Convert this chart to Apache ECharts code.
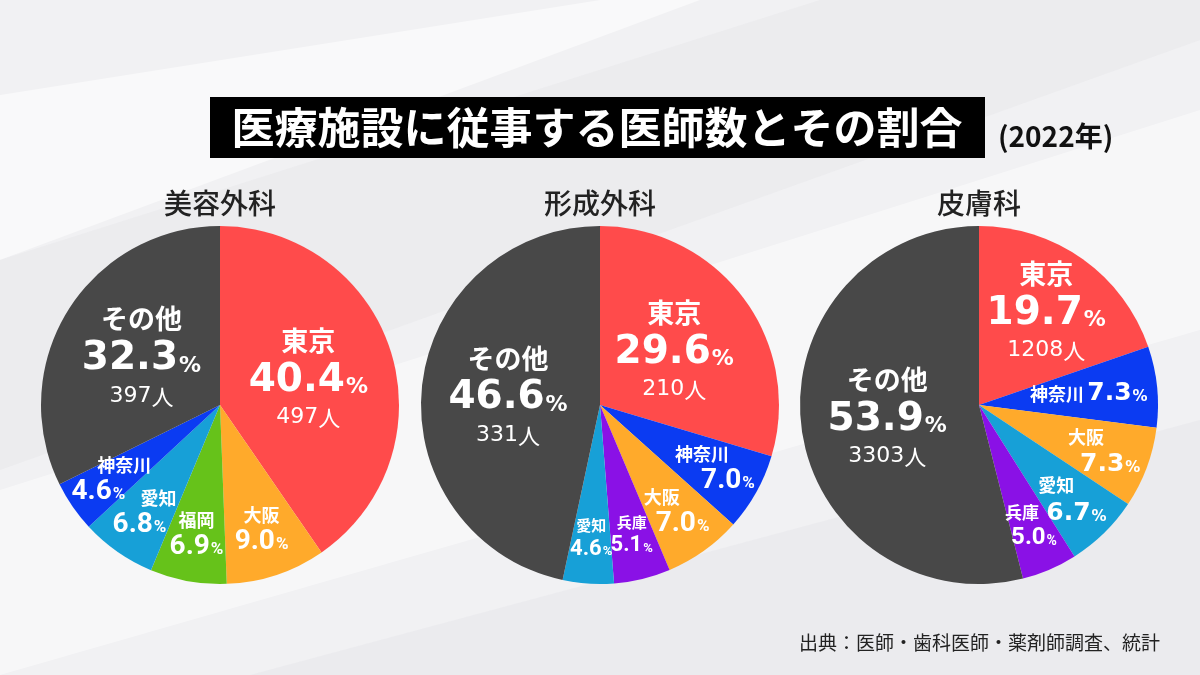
<!DOCTYPE html>
<html>
<head>
<meta charset="utf-8">
<script src="https://cdn.jsdelivr.net/npm/echarts@6/dist/echarts.min.js"></script>
<style>
  html, body { margin: 0; padding: 0; background: #f1f1f3; }
  #main { width: 1200px; height: 675px; }
</style>
</head>
<body>
<div id="main"></div>
<script>
// ---- data ----
const pieTitles = ['美容外科', '形成外科', '皮膚科'];

const regions1 = ['東京', '大阪', '福岡', '愛知', '神奈川', 'その他'];
const shares1  = [40.4, 9.0, 6.9, 6.8, 4.6, 32.3];
const counts1  = [497, null, null, null, null, 397];

const regions2 = ['東京', '神奈川', '大阪', '兵庫', '愛知', 'その他'];
const shares2  = [29.6, 7.0, 7.0, 5.1, 4.6, 46.6];
const counts2  = [210, null, null, null, null, 331];

const regions3 = ['東京', '神奈川', '大阪', '愛知', '兵庫', 'その他'];
const shares3  = [19.7, 7.3, 7.3, 6.7, 5.0, 53.9];
const counts3  = [1208, null, null, null, null, 3303];

const titleText = '医療施設に従事する医師数とその割合';
const yearText = '(2022年)';
const sourceText = '出典：医師・歯科医師・薬剤師調査、統計';

// ---- styles (kept apart from data) ----
const regionColors = {
  '東京': '#FF4B4B', '大阪': '#FFAA2B', '福岡': '#66C21A', '愛知': '#17A0D7',
  '神奈川': '#0B3BF2', '兵庫': '#8A11E6', 'その他': '#484848'
};
// label style per slice: kind (font set + ring), alignment of name vs % line, shift
const labelSpecs = [
  [{ k: 'big' }, { k: 'small', a: 'c' }, { k: 'small', a: 'c' }, { k: 'small', a: 'rl', s: 10 }, { k: 'small', a: 'rl', s: 26 }, { k: 'big' }],
  [{ k: 'big' }, { k: 'small', a: 'lr', s: 26 }, { k: 'small', a: 'lr', s: 12 }, { k: 'tiny', a: 'c' }, { k: 'tiny', a: 'c' }, { k: 'big' }],
  [{ k: 'bigMid' }, { k: 'inline' }, { k: 'wide', a: 'lr', s: 12 }, { k: 'wide', a: 'lr', s: 8 }, { k: 'tiny3', a: 'lr', s: 6 }, { k: 'big' }]
];
const ringInner = { big: 0, bigMid: 0.26, inline: 0.2, small: 0.44, tiny: 0.46, wide: 0.46, tiny3: 0.44 };
const centersX = [220, 600, 979];
const centerY = 405;
const R = 179;

const pies = [
  { regions: regions1, shares: shares1, counts: counts1 },
  { regions: regions2, shares: shares2, counts: counts2 },
  { regions: regions3, shares: shares3, counts: counts3 }
];

const CJK = 'Noto Sans CJK JP';
const fontSets = {
  small: { nSize: 18, pSize: 28, uSize: 17, pFont: 'Roboto', lh: 30, nlh: 24 },
  tiny:  { nSize: 15, pSize: 22, uSize: 13, pFont: 'Roboto', lh: 26, nlh: 22 },
  tiny3: { nSize: 17, pSize: 24, uSize: 14, pFont: 'Roboto', lh: 28, nlh: 24 },
  wide:  { nSize: 18, pSize: 25, uSize: 15, pFont: 'DejaVu Sans', lh: 30, nlh: 26 },
  inline:{ nSize: 18, pSize: 25, uSize: 15, pFont: 'DejaVu Sans', lh: 30, nlh: 30 }
};
const bigRich = {
  n:  { fontSize: 27, fontWeight: 'bold', color: '#fff', lineHeight: 36, fontFamily: CJK },
  p:  { fontSize: 39, fontWeight: 'bold', color: '#fff', lineHeight: 44, fontFamily: 'DejaVu Sans' },
  u:  { fontSize: 22, fontWeight: 'bold', color: '#fff', lineHeight: 44, fontFamily: 'DejaVu Sans', verticalAlign: 'bottom', padding: [0, 0, 4, 1] },
  c:  { fontSize: 22, color: '#fff', lineHeight: 30, fontFamily: 'DejaVu Sans' },
  cj: { fontSize: 22, color: '#fff', lineHeight: 30, fontFamily: CJK }
};

function makeLabel(spec, name, share, count) {
  const s = share.toFixed(1);
  if (spec.k === 'big' || spec.k === 'bigMid') {
    return { formatter: '{n|' + name + '}\n{p|' + s + '}{u|%}\n{c|' + count + '}{cj|人}', rich: bigRich };
  }
  const f = fontSets[spec.k];
  const shift = spec.s || 0;
  const n = { fontSize: f.nSize, fontWeight: 'bold', color: '#fff', lineHeight: f.nlh, fontFamily: CJK };
  const p = { fontSize: f.pSize, fontWeight: 'bold', color: '#fff', lineHeight: f.lh, fontFamily: f.pFont };
  const u = { fontSize: f.uSize, fontWeight: 'bold', color: '#fff', lineHeight: f.lh, fontFamily: f.pFont, verticalAlign: 'bottom', padding: [0, 0, 4, 1] };
  if (spec.k === 'inline') {
    return { formatter: '{n|' + name + '} {p|' + s + '}{u|%}', rich: { n, p, u } };
  }
  if (spec.a === 'lr') {
    n.align = 'left'; p.align = 'right'; u.align = 'right';
    p.padding = [0, 0, 0, shift];
  } else if (spec.a === 'rl') {
    n.align = 'right'; p.align = 'left'; u.align = 'left';
    u.padding = [0, shift, 4, 1];
  }
  return { formatter: '{n|' + name + '}\n{p|' + s + '}{u|%}', rich: { n, p, u } };
}

const series = [];
pies.forEach((pie, pi) => {
  const center = [centersX[pi], centerY];
  // colored sectors
  series.push({
    type: 'pie',
    center: center,
    radius: [0, R],
    startAngle: 90,
    clockwise: true,
    silent: true,
    avoidLabelOverlap: false,
    label: { show: false },
    labelLine: { show: false },
    itemStyle: { borderWidth: 0 },
    data: pie.regions.map((r, i) => ({
      name: r, value: pie.shares[i], itemStyle: { color: regionColors[r] }
    }))
  });
  // label rings (transparent), one per label kind
  const kinds = labelSpecs[pi].map(sp => sp.k);
  Object.keys(ringInner).forEach(kind => {
    if (!kinds.includes(kind)) return;
    series.push({
      type: 'pie',
      center: center,
      radius: [R * ringInner[kind], R],
      startAngle: 90,
      clockwise: true,
      silent: true,
      avoidLabelOverlap: false,
      labelLayout: { hideOverlap: false },
      z: 5,
      itemStyle: { color: 'rgba(0,0,0,0)', borderWidth: 0 },
      labelLine: { show: false },
      data: pie.regions.map((r, i) => {
        const show = kinds[i] === kind;
        const lab = show ? makeLabel(labelSpecs[pi][i], r, pie.shares[i], pie.counts[i]) : { formatter: '', rich: {} };
        return {
          name: r,
          value: pie.shares[i],
          label: { show: show, position: 'inside', formatter: lab.formatter, rich: lab.rich, align: 'center' }
        };
      })
    });
  });
});

// ---- graphics: background bands, title, subtitles, source ----
const graphic = [
  { type: 'polygon', silent: true, z: -10, shape: { points: [[0, 0], [1200, 0], [1200, 675], [0, 675]] }, style: { fill: '#f1f1f3' } },
  { type: 'polygon', silent: true, z: -9, shape: { points: [[0, 95], [600, 0], [700, 0], [0, 260]] }, style: { fill: 'rgba(255,255,255,0.55)' } },
  { type: 'polygon', silent: true, z: -9, shape: { points: [[0, 260], [820, 0], [1200, 0], [1200, 40], [0, 470]] }, style: { fill: 'rgba(225,225,229,0.35)' } },
  { type: 'polygon', silent: true, z: -9, shape: { points: [[0, 490], [1200, 110], [1200, 330], [0, 675]] }, style: { fill: 'rgba(255,255,255,0.45)' } },
  { type: 'polygon', silent: true, z: -9, shape: { points: [[250, 675], [1200, 420], [1200, 675]] }, style: { fill: 'rgba(228,228,232,0.45)' } },
  { type: 'rect', silent: true, z: 10, shape: { x: 210, y: 97, width: 775, height: 61 }, style: { fill: '#000' } },
  { type: 'text', silent: true, z: 11, x: 597, y: 128,
    style: { text: titleText, fill: '#fff', font: 'bold 43px "Noto Sans CJK JP"', textAlign: 'center', textVerticalAlign: 'middle' } },
  { type: 'text', silent: true, z: 11, x: 998, y: 136,
    style: { text: yearText, fill: '#111', font: 'bold 28px "Noto Sans CJK JP"', textAlign: 'left', textVerticalAlign: 'middle' } },
  { type: 'text', silent: true, z: 11, x: 1160, y: 643,
    style: { text: sourceText, fill: '#222', font: '19px "Noto Sans CJK JP"', textAlign: 'right', textVerticalAlign: 'middle' } }
];
pieTitles.forEach((t, i) => {
  graphic.push({ type: 'text', silent: true, z: 11, x: centersX[i], y: 203,
    style: { text: t, fill: '#222', font: '500 28px "Noto Sans CJK JP"', textAlign: 'center', textVerticalAlign: 'middle' } });
});

const chart = echarts.init(document.getElementById('main'));
chart.setOption({
  backgroundColor: '#f1f1f3',
  animation: false,
  graphic: graphic,
  series: series
});
</script>
</body>
</html>
